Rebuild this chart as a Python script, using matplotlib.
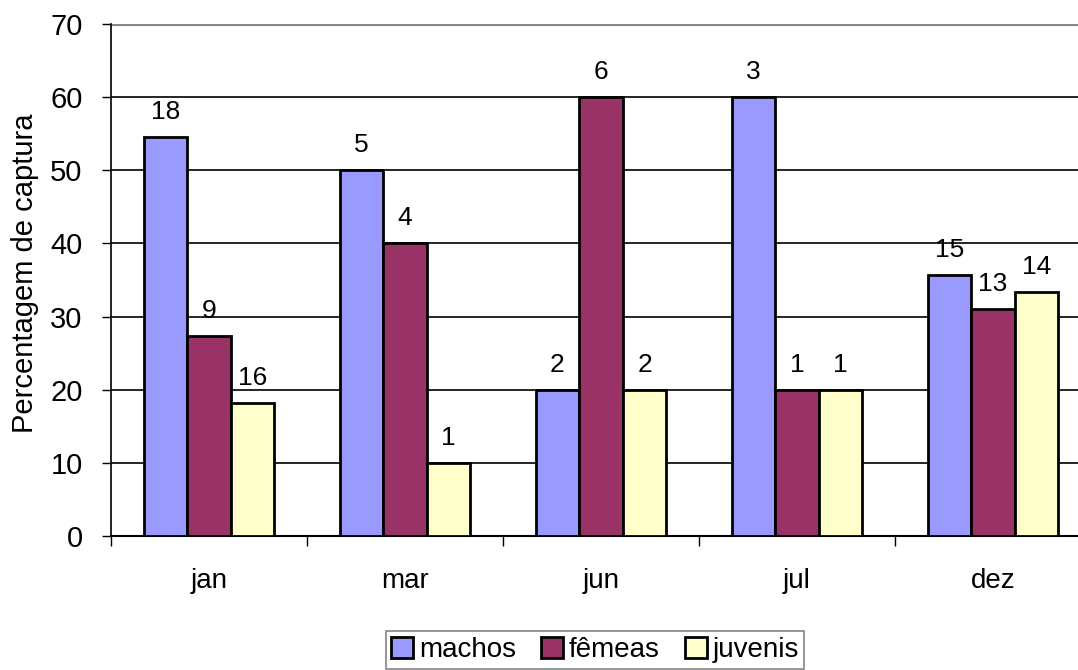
import numpy as np
import matplotlib
matplotlib.use("Agg")
from matplotlib import pyplot as plt

plt.rcParams['font.family'] = ['Liberation Sans', 'DejaVu Sans']

meses = ['jan', 'mar', 'jun', 'jul', 'dez']
series = ['machos', 'fêmeas', 'juvenis']
# percentagem de captura por mes
machos = [54.5, 50.0, 20.0, 60.0, 35.7]
femeas = [27.3, 40.0, 60.0, 20.0, 31.0]
juvenis = [18.2, 10.0, 20.0, 20.0, 33.3]
# numero de individuos (rotulos)
n_machos = [18, 5, 2, 3, 15]
n_femeas = [9, 4, 6, 1, 13]
n_juvenis = [16, 1, 2, 1, 14]

cores = ['#9999FF', '#993366', '#FFFFCC']

fig = plt.figure(figsize=(10.78, 6.70), dpi=100)
ax = fig.add_axes([111/1078, 1 - 536/670, 980/1078, 512/670])

x = np.arange(len(meses)) + 0.5
w = 0.222
for i, (vals, ns, nome) in enumerate(zip([machos, femeas, juvenis],
                                         [n_machos, n_femeas, n_juvenis], series)):
    pos = x + (i - 1) * w
    ax.bar(pos, vals, w, color=cores[i], edgecolor='black', linewidth=2,
           label=nome, zorder=3)
    for p, v, n in zip(pos, vals, ns):
        ax.annotate(str(n), (p, v), xytext=(0, 13), textcoords='offset points',
                    ha='center', va='baseline', fontsize=19)

ax.set_xlim(0, 5)
ax.set_ylim(0, 70)
ax.set_yticks(range(0, 71, 10))
ax.tick_params(axis='y', labelsize=21, length=6.5, width=1, direction='out', pad=14)
ax.set_xticks(range(0, 6))
ax.set_xticklabels([])
ax.set_xticks(x, minor=True)
ax.set_xticklabels(meses, minor=True)
ax.tick_params(axis='x', which='major', length=7, width=1, direction='out')
ax.tick_params(axis='x', which='minor', length=0, labelsize=20, pad=23)

for y in range(10, 70, 10):
    ax.axhline(y, color='black', linewidth=1.2, zorder=1)
ax.axhline(70, color='#888888', linewidth=3, zorder=1)

for s in ['top', 'right']:
    ax.spines[s].set_visible(False)
ax.spines['left'].set_linewidth(1.2)
ax.spines['bottom'].set_linewidth(1.5)

ax.set_ylabel('Percentagem de captura', fontsize=21)
ax.yaxis.set_label_coords(-72/980, 0.514)

leg = fig.legend(loc='lower center', bbox_to_anchor=(595/1078, 0.0), ncol=3,
                 fontsize=20, frameon=True, fancybox=False, edgecolor='#666666',
                 handlelength=0.8, handleheight=0.8, handletextpad=0.2,
                 columnspacing=0.9, borderpad=0.2, borderaxespad=0.05)
leg.get_frame().set_linewidth(1.2)
for h in leg.legend_handles:
    h.set_linewidth(2)

fig.savefig('out.png', dpi=100, facecolor='white')
